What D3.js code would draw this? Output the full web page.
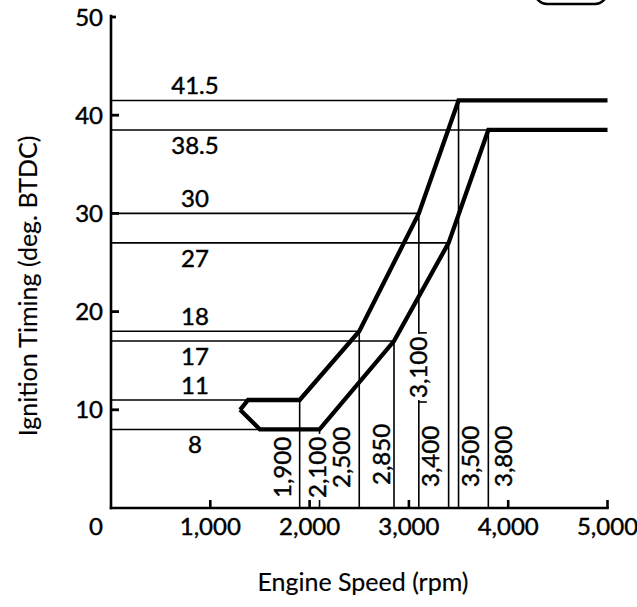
<!DOCTYPE html>
<html>
<head>
<meta charset="utf-8">
<script src="https://cdn.jsdelivr.net/npm/d3@7"></script>
<style>
  html, body { margin: 0; padding: 0; background: #fff; }
  svg { display: block; }
  text { font-family: Lato, "Open Sans", sans-serif; fill: #000; stroke: #000; stroke-width: 0.45px; }
  text.title { stroke-width: 0.15px; }
</style>
</head>
<body>
<script>
// ---- data ----
const upperCurve = [[1300, 10], [1380, 11], [1900, 11], [2500, 18], [3100, 30], [3500, 41.5], [5000, 41.5]];
const lowerCurve = [[1300, 10], [1500, 8], [2100, 8], [2850, 17], [3400, 27], [3800, 38.5], [5000, 38.5]];
const markRpm = [1900, 2100, 2500, 2850, 3100, 3400, 3500, 3800];
const markDeg = [11, 8, 18, 17, 30, 27, 41.5, 38.5];
const markLabels = ["1,900", "2,100", "2,500", "2,850", "3,100", "3,400", "3,500", "3,800"];
const degLevels = [41.5, 38.5, 30, 27, 18, 17, 11, 8];
const degLabels = ["41.5", "38.5", "30", "27", "18", "17", "11", "8"];
const xTicks = [0, 1000, 2000, 3000, 4000, 5000];
const xTickLabels = ["0", "1,000", "2,000", "3,000", "4,000", "5,000"];
const yTicks = [10, 20, 30, 40, 50];
const yTickLabels = ["10", "20", "30", "40", "50"];
const xTitle = "Engine Speed (rpm)";
const yTitle = "Ignition Timing (deg. BTDC)";

// ---- layout / style ----
const W = 637, H = 607;
const x = d3.scaleLinear().domain([0, 5000]).range([111, 607.5]);
const y = d3.scaleLinear().domain([0, 50]).range([508, 17]);

const svg = d3.select("body").append("svg").attr("width", W).attr("height", H);

const degSide = {"41.5": "above", "38.5": "below", "30": "above", "27": "below",
                 "18": "above", "17": "below", "11": "above", "8": "below"};
const rpmPlace = {
  1900: {dx: -17, bottom: 498},
  2100: {dx: -2, bottom: 498, bg: true},
  2500: {dx: -18, bottom: 488},
  2850: {dx: -13, bottom: 485},
  3100: {dx: 0, bottom: 398, bg: true, dashes: true},
  3400: {dx: -18, bottom: 487},
  3500: {dx: 12, bottom: 487},
  3800: {dx: 15, bottom: 487}
};

const thin = 1.6, thick = 4.3;

const marks = markRpm.map((r, i) => ({rpm: r, deg: markDeg[i], label: markLabels[i]}));
svg.append("g").selectAll("line").data(marks).join("line")
  .attr("x1", x(0)).attr("x2", d => x(d.rpm))
  .attr("y1", d => y(d.deg)).attr("y2", d => y(d.deg))
  .attr("stroke", "#000").attr("stroke-width", thin);
svg.append("g").selectAll("line").data(marks).join("line")
  .attr("x1", d => x(d.rpm)).attr("x2", d => x(d.rpm))
  .attr("y1", d => y(d.deg)).attr("y2", y(0))
  .attr("stroke", "#000").attr("stroke-width", thin);

const capHalf = 8.6;
const rl = svg.append("g");
marks.forEach(d => {
  const p = rpmPlace[d.rpm];
  const cx = x(d.rpm) + p.dx;
  const t = rl.append("text")
    .attr("transform", `translate(${cx + capHalf},${p.bottom}) rotate(-90)`)
    .attr("font-size", 24)
    .text(d.label);
  const len = t.node().getComputedTextLength();
  if (p.bg) {
    rl.insert("rect", "text")
      .attr("x", cx - 10).attr("y", p.bottom - len - 3)
      .attr("width", 20).attr("height", len + 5)
      .attr("fill", "#fff");
  }
  if (p.dashes) {
    [p.bottom + 4, p.bottom - len - 4].forEach(yy => {
      rl.append("line").attr("x1", x(d.rpm)).attr("x2", x(d.rpm) + 8)
        .attr("y1", yy).attr("y2", yy).attr("stroke", "#000").attr("stroke-width", thin);
    });
  }
});

svg.append("g").selectAll("text").data(degLevels).join("text")
  .attr("x", 195)
  .attr("y", (d, i) => degSide[degLabels[i]] === "above" ? y(d) - 6 : y(d) + 24)
  .attr("text-anchor", "middle").attr("font-size", 24)
  .text((d, i) => degLabels[i]);

const line = d3.line().x(d => x(d[0])).y(d => y(d[1]));
[upperCurve, lowerCurve].forEach(c => {
  svg.append("path").attr("d", line(c)).attr("fill", "none")
    .attr("stroke", "#000").attr("stroke-width", thick).attr("stroke-linejoin", "miter");
});

const ax = svg.append("g");
ax.append("line").attr("x1", x(0)).attr("x2", x(5000)).attr("y1", y(0)).attr("y2", y(0))
  .attr("stroke", "#000").attr("stroke-width", 2.6).attr("stroke-linecap", "square");
ax.append("line").attr("x1", x(0)).attr("x2", x(0)).attr("y1", y(0)).attr("y2", y(50) - 1)
  .attr("stroke", "#000").attr("stroke-width", 2.6).attr("stroke-linecap", "square");
ax.selectAll("line.xt").data(xTicks.filter(d => d > 0)).join("line")
  .attr("x1", d => x(d)).attr("x2", d => x(d)).attr("y1", y(0)).attr("y2", y(0) - 8)
  .attr("stroke", "#000").attr("stroke-width", 2.6);
ax.selectAll("line.yt").data(yTicks).join("line")
  .attr("x1", x(0)).attr("x2", d => x(0) + (d === 50 ? 5 : 8)).attr("y1", d => y(d)).attr("y2", d => y(d))
  .attr("stroke", "#000").attr("stroke-width", 2.8);
ax.selectAll("text.xl").data(xTicks).join("text")
  .attr("x", d => d === 0 ? x(0) - 15 : x(d)).attr("y", 535)
  .attr("text-anchor", "middle").attr("font-size", 24)
  .text((d, i) => xTickLabels[i]);
ax.selectAll("text.yl").data(yTicks).join("text")
  .attr("x", 103).attr("y", d => y(d) + 8.6)
  .attr("text-anchor", "end").attr("font-size", 24)
  .text((d, i) => yTickLabels[i]);

svg.append("text").attr("class", "title").attr("x", 363).attr("y", 591).attr("text-anchor", "middle")
  .attr("font-size", 25).text(xTitle);
svg.append("text").attr("class", "title").attr("transform", "translate(37,286) rotate(-90)").attr("text-anchor", "middle")
  .attr("font-size", 25).text(yTitle);

svg.append("rect").attr("x", 535).attr("y", -30).attr("width", 72).attr("height", 34)
  .attr("rx", 12).attr("fill", "none").attr("stroke", "#000").attr("stroke-width", 2.5);
</script>
</body>
</html>
